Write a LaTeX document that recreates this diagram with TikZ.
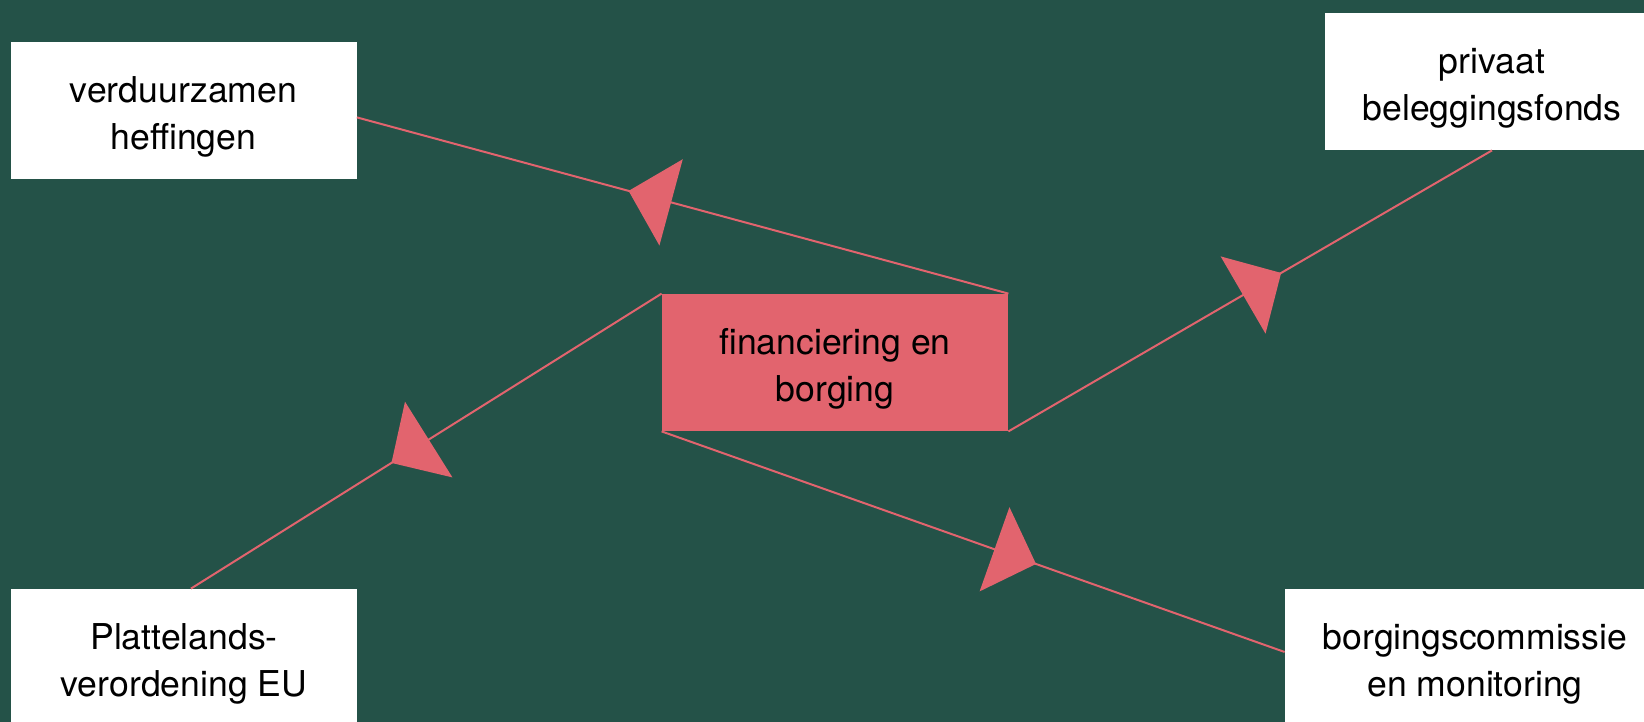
\documentclass[tikz,border=0pt]{standalone}
\usepackage{fontspec}
\setmainfont{TeX Gyre Heros}
\usetikzlibrary{arrows.meta, decorations.markings, calc}
\definecolor{bosgroen}{RGB}{36,82,72}
\definecolor{roze}{RGB}{226,100,110}

\begin{document}
\begin{tikzpicture}[x = 0.5pt, y = -0.5pt,
        box/.style = {fill = white, inner sep = 0pt, minimum height = 68.5pt, align = center,
            text height = 41pt, text depth = 1.8pt, font = \fontsize{17.8}{23.75}\selectfont},
        pijl/.style = {color = roze, line width = 1pt, postaction = {decorate},
            decoration = {markings, mark = at position #1 with {\arrow{Triangle[length = 22pt, width = 44.5pt]}}}}]
    \useasboundingbox (0, 0) rectangle (1644, 722);
    \clip (0, 0) rectangle (1644, 722);
    \fill [bosgroen] (0, 0) rectangle (1644, 722);
    % blokken
    \node [box, minimum width = 173pt] (verd) at (183.5, 110.5) {verduurzamen\\heffingen};
    \node [box, minimum width = 173pt, fill = roze] (fin) at (835, 362.5) {financiering en\\borging};
    \node [box, minimum width = 167pt] (priv) at (1492, 81.5) {privaat\\beleggingsfonds};
    \node [box, minimum width = 173pt] (plat) at (184, 657.5) {Plattelands-\\verordening EU};
    \node [box, minimum width = 190pt] (borg) at (1475, 657.5) {borgingscommissie\\en monitoring};
    % verbindingen
    \draw [pijl = 0.583] (fin.north east) -- ($(verd.north east)!0.55!(verd.south east)$);
    \draw [pijl = 0.564] (fin.south east) -- (priv.south);
    \draw [pijl = 0.574] (fin.north west) -- ($(plat.north west)!0.52!(plat.north east)$);
    \draw [pijl = 0.601] (fin.south west) -- ($(borg.north west)!0.46!(borg.south west)$);
\end{tikzpicture}
\end{document}
